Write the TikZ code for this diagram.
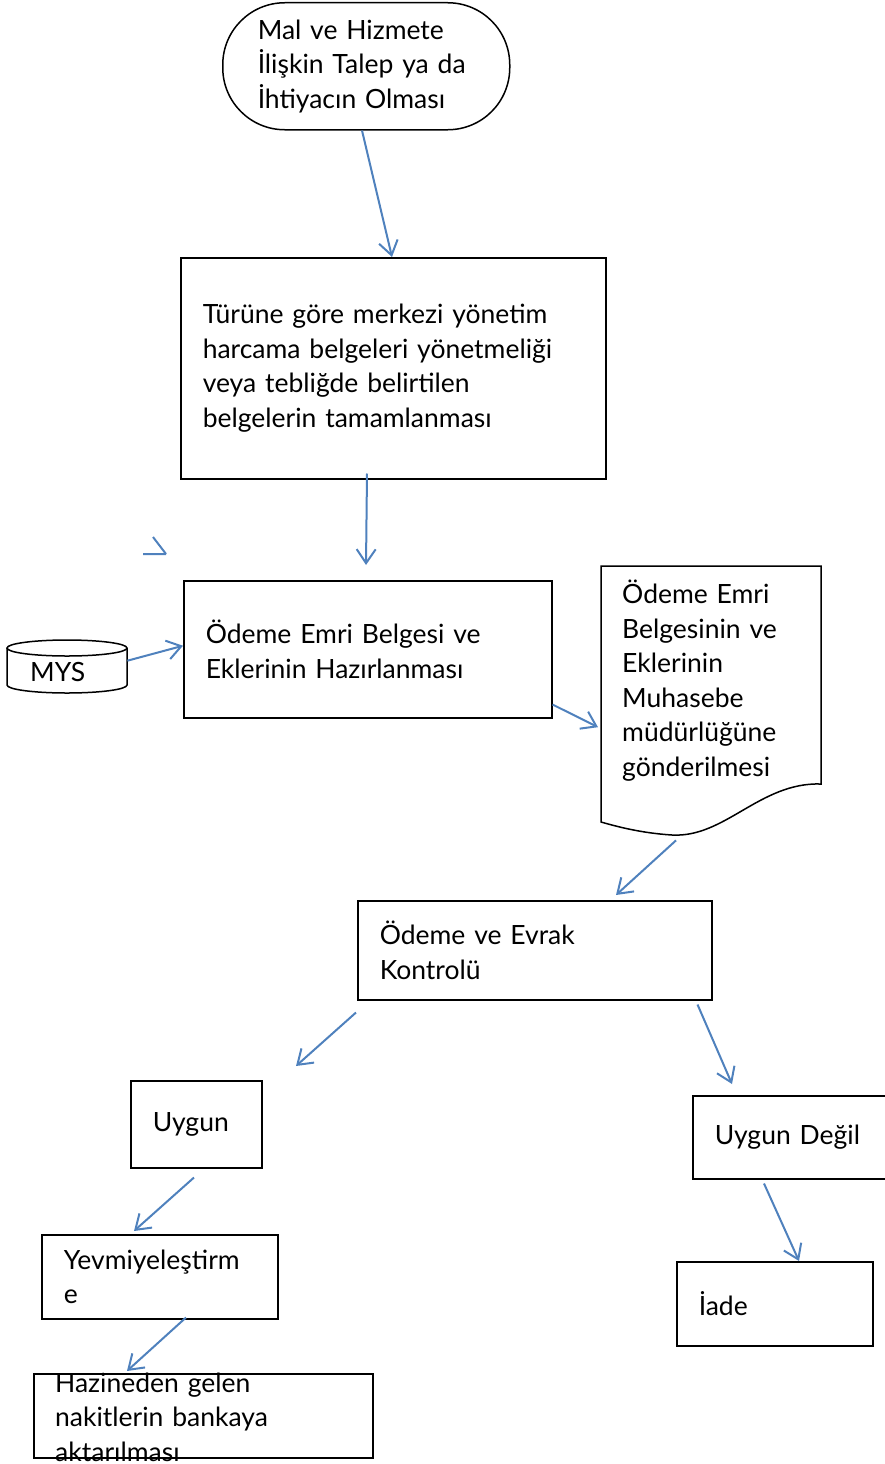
\documentclass[tikz,border=0pt]{standalone}
\usepackage{fontspec}
\setmainfont{Lato}
\usetikzlibrary{arrows.meta,calc}
\definecolor{arr}{HTML}{4F81BD}
\begin{document}
\begin{tikzpicture}[x=1pt,y=-1pt,
  every node/.style={font=\fontsize{26.5}{34.5}\selectfont},
  box/.style={draw, line width=1.5pt, anchor=north west, inner xsep=22pt, inner ysep=0pt, align=left},
  conn/.style={draw=arr, line width=2pt, -{Straight Barb[length=14pt,width=19pt,line width=2pt]}},
  shapeline/.style={draw, line width=1.5pt}]
\useasboundingbox (0,0) rectangle (885,1464);
% terminal
\node[box, rounded corners=62pt, inner xsep=35pt, minimum width=287pt, minimum height=127pt, text width=217pt] (term) at (222,2) {Mal ve Hizmete\\İlişkin Talep ya da\\İhtiyacın Olması};
% box2
\node[box, minimum width=425pt, minimum height=221pt, text width=381pt] (box2) at (180,257) {Türüne göre merkezi yönetim\\harcama belgeleri yönetmeliği\\veya tebliğde belirtilen\\belgelerin tamamlanması};
% box3
\node[box, minimum width=368pt, minimum height=137pt, text width=324pt] (box3) at (183,580) {Ödeme Emri Belgesi ve\\Eklerinin Hazırlanması};
% MYS cylinder
\node[anchor=north west, minimum width=120pt, minimum height=53pt, inner sep=0pt] (mys) at (7,640) {};
\draw[shapeline] (67,648) ellipse[x radius=60, y radius=8];
\draw[shapeline] (7,648) -- (7,685) arc[start angle=180, end angle=0, x radius=60, y radius=8] -- (127,648);
\node[anchor=west, inner sep=0pt] (mystext) at (30,672) {MYS};
% document
\node[anchor=north west, minimum width=220pt, minimum height=256pt, inner sep=0pt] (doc) at (601,566) {};
\draw[shapeline] (601,566) -- (821,566) -- (821,784)
  .. controls (760,782) and (725,838) .. (672,835)
  .. controls (640,833) and (615,826) .. (601,822) -- cycle;
\node[anchor=north west, inner sep=0pt, align=left, text width=195pt] (doctext) at (622,580) {Ödeme Emri\\Belgesinin ve\\Eklerinin\\Muhasebe\\müdürlüğüne\\gönderilmesi};
% box4
\node[box, minimum width=354pt, minimum height=99pt, text width=310pt] (box4) at (357,900) {Ödeme ve Evrak\\Kontrolü};
% uygun
\node[box, minimum width=131pt, minimum height=87pt, text width=87pt] (uygun) at (130,1080) {Uygun};
% uygun degil
\node[box, minimum width=200pt, minimum height=83pt, text width=156pt] (degil) at (692,1095) {Uygun Değil};
% iade
\node[box, minimum width=196pt, minimum height=84pt, text width=152pt] (iade) at (676,1261) {İade};
% yevmiye
\node[box, minimum width=236pt, minimum height=84pt, text width=192pt] (yev) at (41,1234) {Yevmiyeleştirm\\e};
% hazine
\node[box, minimum width=339pt, minimum height=84pt, text width=295pt] (haz) at (33,1373) {};
\node[anchor=west, inner sep=0pt, align=left, text width=300pt] (haztext) at (55,1417) {Hazineden gelen\\nakitlerin bankaya\\aktarılması};
% connectors
\draw[conn] ([xshift=140pt]term.south west) -- ([xshift=212pt]box2.north west);
\draw[conn] ([xshift=187pt,yshift=6pt]box2.south west) -- ([xshift=183pt,yshift=15pt]box3.north west);
\draw[conn] ([yshift=6pt]mys.east) -- ([yshift=3.5pt]box3.west);
\draw[conn] ([yshift=14pt]box3.south east) -- ([xshift=-3pt,yshift=-33pt]doc.west);
\draw[conn] ([xshift=75pt,yshift=-18pt]doc.south west) -- ([xshift=259pt,yshift=5pt]box4.north west);
\draw[conn] ([xshift=-1pt,yshift=-12pt]box4.south west) -- ([xshift=166pt,yshift=14pt]uygun.north west);
\draw[conn] ([xshift=-15pt,yshift=-4pt]box4.south east) -- ([xshift=40pt,yshift=11pt]degil.north west);
\draw[conn] ([xshift=72pt,yshift=-4pt]degil.south west) -- ([xshift=123pt]iade.north west);
\draw[conn] ([xshift=64pt,yshift=-9pt]uygun.south west) -- ([xshift=93pt,yshift=3pt]yev.north west);
\draw[conn] ([xshift=145pt,yshift=2pt]yev.south west) -- ([xshift=94pt,yshift=2pt]haz.north west);
% stray arrowhead fragment
\draw[arr, line width=2pt] (143,554) -- (166,554) (153,537) -- (166,554);
\end{tikzpicture}
\end{document}
